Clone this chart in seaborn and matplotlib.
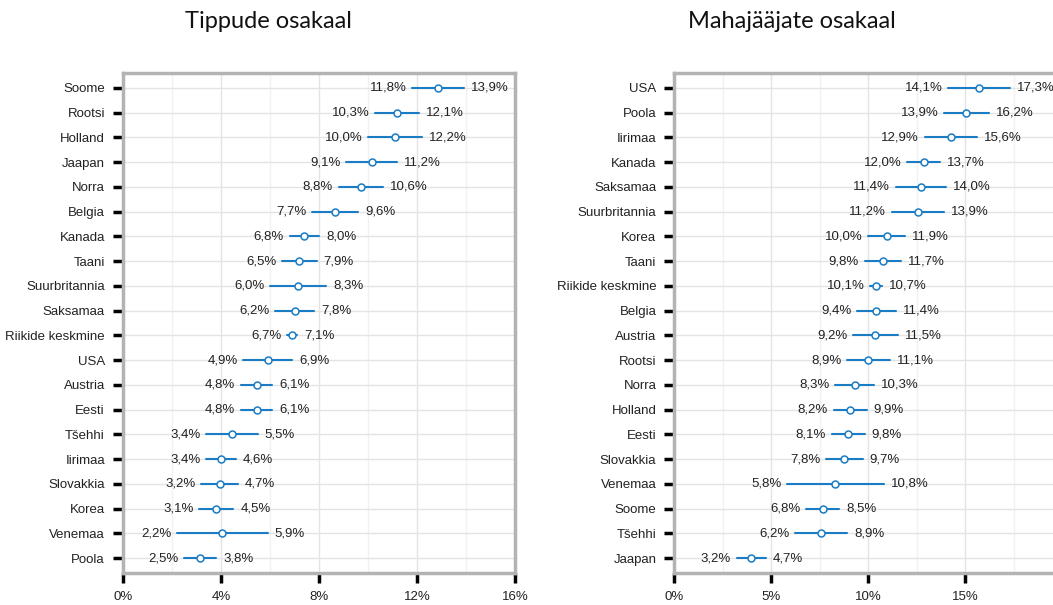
import matplotlib
matplotlib.use("Agg")
import matplotlib.pyplot as plt
import seaborn as sns
import pandas as pd
from matplotlib.ticker import MultipleLocator, FixedLocator, FuncFormatter

# Tippude osakaal
top_countries = ["Soome", "Rootsi", "Holland", "Jaapan", "Norra", "Belgia", "Kanada",
                 "Taani", "Suurbritannia", "Saksamaa", "Riikide keskmine", "USA",
                 "Austria", "Eesti", "Tšehhi", "Iirimaa", "Slovakkia", "Korea",
                 "Venemaa", "Poola"]
top_low = [11.8, 10.3, 10.0, 9.1, 8.8, 7.7, 6.8, 6.5, 6.0, 6.2, 6.7, 4.9, 4.8, 4.8,
           3.4, 3.4, 3.2, 3.1, 2.2, 2.5]
top_high = [13.9, 12.1, 12.2, 11.2, 10.6, 9.6, 8.0, 7.9, 8.3, 7.8, 7.1, 6.9, 6.1, 6.1,
            5.5, 4.6, 4.7, 4.5, 5.9, 3.8]

# Mahajääjate osakaal
low_countries = ["USA", "Poola", "Iirimaa", "Kanada", "Saksamaa", "Suurbritannia",
                 "Korea", "Taani", "Riikide keskmine", "Belgia", "Austria", "Rootsi",
                 "Norra", "Holland", "Eesti", "Slovakkia", "Venemaa", "Soome",
                 "Tšehhi", "Jaapan"]
lag_low = [14.1, 13.9, 12.9, 12.0, 11.4, 11.2, 10.0, 9.8, 10.1, 9.4, 9.2, 8.9, 8.3,
           8.2, 8.1, 7.8, 5.8, 6.8, 6.2, 3.2]
lag_high = [17.3, 16.2, 15.6, 13.7, 14.0, 13.9, 11.9, 11.7, 10.7, 11.4, 11.5, 11.1,
            10.3, 9.9, 9.8, 9.7, 10.8, 8.5, 8.9, 4.7]

top_ticks = [0, 4, 8, 12, 16]
lag_ticks = [0, 5, 10, 15]

blue = "#1b7cc6"
label_font = ["Liberation Sans", "DejaVu Sans"]

sns.set_style("whitegrid")
plt.rcParams["font.family"] = label_font

fig = plt.figure(figsize=(10.53, 6.05), dpi=100)
ax1 = fig.add_axes([0.1168, 0.0529, 0.3723, 0.8264])
ax2 = fig.add_axes([0.6405, 0.0529, 0.3685, 0.8264])


def fmt(v):
    return f"{v:.1f}".replace(".", ",") + "%"


def panel(ax, countries, lo, hi, xmax, ticks, title, title_x):
    df = pd.DataFrame({"country": countries * 2, "value": lo + hi})
    sns.pointplot(data=df, x="value", y="country", order=countries,
                  estimator="mean", errorbar=("pi", 100), linestyle="none",
                  color=blue, markers="o", markersize=5,
                  err_kws={"linewidth": 1.5}, ax=ax)
    for ln in ax.lines:
        if ln.get_marker() == "o":
            ln.set_markerfacecolor("white")
            ln.set_markeredgecolor(blue)
            ln.set_markeredgewidth(1.1)
            ln.set_zorder(5)
    for i, (a, b) in enumerate(zip(lo, hi)):
        ax.annotate(fmt(a), (a, i), xytext=(-4, 0), textcoords="offset points",
                    ha="right", va="center", fontsize=9.5, color="#222222",
                    family=label_font)
        ax.annotate(fmt(b), (b, i), xytext=(5, 0), textcoords="offset points",
                    ha="left", va="center", fontsize=9.5, color="#222222",
                    family=label_font, annotation_clip=False)
    ax.set_xlim(0, xmax)
    ax.set_ylim(len(countries) - 0.4, -0.6)
    step = ticks[1] - ticks[0]
    ax.xaxis.set_major_locator(FixedLocator(ticks))
    ax.xaxis.set_minor_locator(MultipleLocator(step / 2))
    ax.xaxis.set_major_formatter(FuncFormatter(lambda x, p: f"{int(round(x))}%"))
    ax.grid(which="major", color="#e4e4e4", linewidth=1)
    ax.grid(which="minor", axis="x", color="#f1f1f1", linewidth=1)
    ax.set_xlabel("")
    ax.set_ylabel("")
    for s in ax.spines.values():
        s.set_visible(True)
        s.set_color("#b3b3b3")
        s.set_linewidth(2.5)
    ax.tick_params(which="major", bottom=True, left=True, direction="out",
                   length=7, width=2.5, color="black", labelsize=9.5,
                   labelcolor="#222222", pad=6)
    ax.tick_params(which="minor", length=0)
    for t in ax.get_xticklabels() + ax.get_yticklabels():
        t.set_family(label_font)
    fig.text(title_x, 0.965, title, ha="center", va="center", fontsize=17,
             family=["Lato", "DejaVu Sans"], color="#111111")


panel(ax1, top_countries, top_low, top_high, 16, top_ticks, "Tippude osakaal", 0.255)
panel(ax2, low_countries, lag_low, lag_high, 20, lag_ticks, "Mahajääjate osakaal", 0.752)

fig.savefig("out.png", dpi=100)
